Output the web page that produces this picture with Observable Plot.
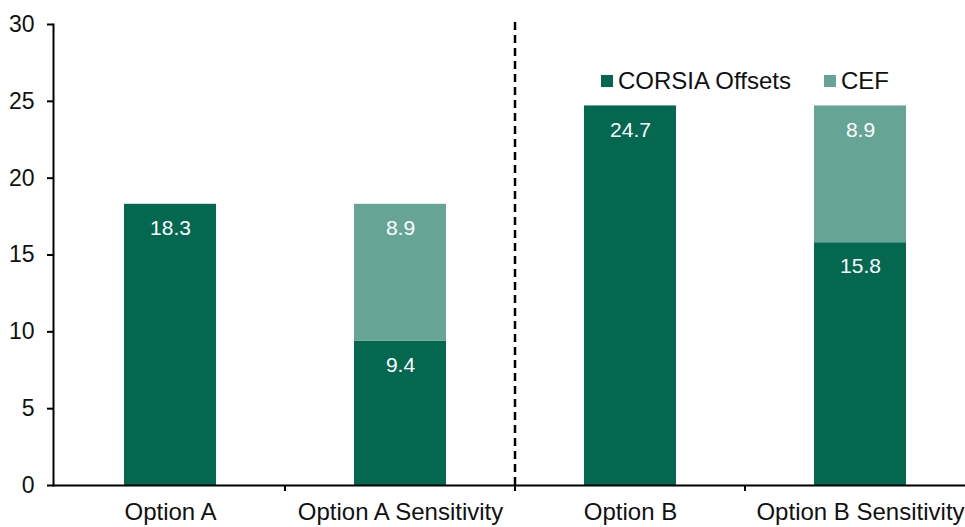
<!DOCTYPE html>
<html>
<head>
<meta charset="utf-8">
<script src="https://cdn.jsdelivr.net/npm/d3@7"></script>
<script src="https://cdn.jsdelivr.net/npm/@observablehq/plot@0.6"></script>
<style>
  html, body { margin: 0; padding: 0; background: #fff; }
  #wrap { position: relative; width: 965px; height: 527px; font-family: "Liberation Sans", Arial, sans-serif; }
  .legend { position: absolute; top: 67px; left: 601px; display: flex; align-items: center; font-size: 24px; color: #111; }
  .legend .item { display: flex; align-items: center; }
  .legend .sw { width: 12px; height: 12px; margin-right: 5px; }
</style>
</head>
<body>
<div id="wrap"></div>
<script>
const categories = ["Option A", "Option A Sensitivity", "Option B", "Option B Sensitivity"];
const series = ["CORSIA Offsets", "CEF"];
const corsiaValues = [18.3, 9.4, 24.7, 15.8];
const cefValues = [0, 8.9, 0, 8.9];
const colors = ["#046850", "#66A596"];
const yTicks = [0, 5, 10, 15, 20, 25, 30];

const data = [];
categories.forEach((c, i) => {
  data.push({category: c, series: series[0], value: corsiaValues[i]});
  if (cefValues[i] > 0) data.push({category: c, series: series[1], value: cefValues[i]});
});

const font = "Liberation Sans, Arial, sans-serif";

// Ticks at band boundaries on the x axis and the dashed divider
function boundaryMarks(index, scales, values, dimensions) {
  const x = scales.x, y = scales.y;
  const bw = x.bandwidth ? x.bandwidth() : 0;
  const centers = categories.map(c => x(c) + bw / 2);
  const step = centers[1] - centers[0];
  const bounds = [centers[0] - step / 2];
  for (let i = 0; i < centers.length - 1; i++) bounds.push((centers[i] + centers[i + 1]) / 2);
  bounds.push(centers[centers.length - 1] + step / 2);
  const y0 = y(0);
  const g = d3.create("svg:g");
  g.selectAll("line.t").data(bounds.slice(1)).join("line")
    .attr("x1", d => d).attr("x2", d => d)
    .attr("y1", y0).attr("y2", y0 + 6)
    .attr("stroke", "#000").attr("stroke-width", 2);
  const mid = bounds[2];
  g.append("line")
    .attr("x1", mid).attr("x2", mid)
    .attr("y1", y(30) - 2).attr("y2", y0)
    .attr("stroke", "#000").attr("stroke-width", 2.5)
    .attr("stroke-dasharray", "8,5");
  return g.node();
}

const chart = Plot.plot({
  width: 965,
  height: 527,
  marginTop: 24,
  marginBottom: 42,
  marginLeft: 53,
  marginRight: 0,
  style: {fontFamily: font, fontSize: "22px", color: "#111", background: "#fff"},
  x: {domain: categories, range: [55, 975], paddingInner: 0.6, paddingOuter: 0.3, label: null},
  y: {domain: [0, 30], label: null},
  color: {domain: series, range: colors},
  marks: [
    Plot.barY(data, {x: "category", y: "value", fill: "series", z: "series", order: series}),
    Plot.text(data, Plot.stackY2({x: "category", y: "value", z: "series", order: series, text: d => d.value.toFixed(1), fill: "white", dy: 24, fontSize: 21, lineAnchor: "middle"})),
    Plot.axisY({ticks: yTicks, tickSize: 6, tickPadding: 13, fontSize: 23, stroke: "#000", strokeWidth: 2}),
    Plot.axisX({tickSize: 0, tickPadding: 17, fontSize: 24}),
    Plot.frame({anchor: "left", stroke: "#000", strokeWidth: 2}),
    Plot.ruleY([0], {stroke: "#000", strokeWidth: 2}),
    boundaryMarks
  ]
});

const wrap = document.getElementById("wrap");
wrap.appendChild(chart);

const legend = document.createElement("div");
legend.className = "legend";
series.forEach((s, i) => {
  const item = document.createElement("div");
  item.className = "item";
  item.style.marginRight = i === 0 ? "33px" : "0";
  const sw = document.createElement("span");
  sw.className = "sw";
  sw.style.background = colors[i];
  const t = document.createElement("span");
  t.textContent = s;
  item.appendChild(sw);
  item.appendChild(t);
  legend.appendChild(item);
});
wrap.appendChild(legend);
</script>
</body>
</html>
